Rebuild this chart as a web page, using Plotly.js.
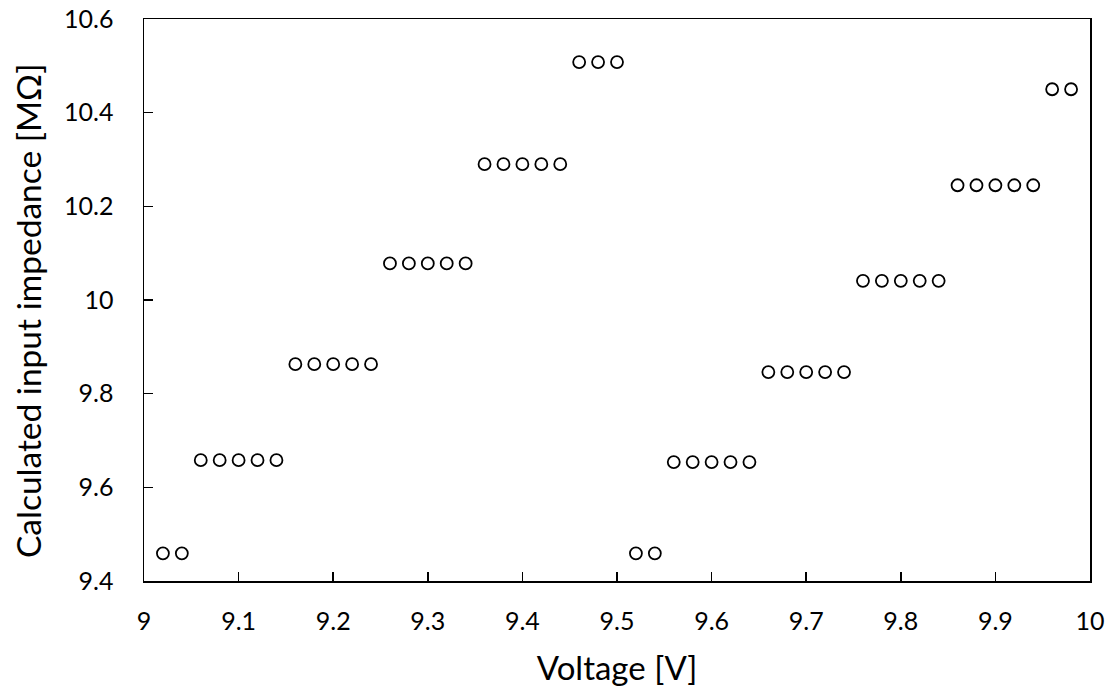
<!DOCTYPE html>
<html>
<head>
<meta charset="utf-8">
<script src="https://cdn.plot.ly/plotly-3.0.1.min.js"></script>
<style>html,body{margin:0;padding:0;background:#fff;}#chart{width:1112px;height:697px;}</style>
</head>
<body>
<div id="chart"></div>
<script>
// Data
const voltage = [9.02, 9.04,
  9.06, 9.08, 9.10, 9.12, 9.14,
  9.16, 9.18, 9.20, 9.22, 9.24,
  9.26, 9.28, 9.30, 9.32, 9.34,
  9.36, 9.38, 9.40, 9.42, 9.44,
  9.46, 9.48, 9.50,
  9.52, 9.54,
  9.56, 9.58, 9.60, 9.62, 9.64,
  9.66, 9.68, 9.70, 9.72, 9.74,
  9.76, 9.78, 9.80, 9.82, 9.84,
  9.86, 9.88, 9.90, 9.92, 9.94,
  9.96, 9.98];
const impedance = [9.459, 9.459,
  9.658, 9.658, 9.658, 9.658, 9.658,
  9.863, 9.863, 9.863, 9.863, 9.863,
  10.078, 10.078, 10.078, 10.078, 10.078,
  10.290, 10.290, 10.290, 10.290, 10.290,
  10.508, 10.508, 10.508,
  9.459, 9.459,
  9.654, 9.654, 9.654, 9.654, 9.654,
  9.846, 9.846, 9.846, 9.846, 9.846,
  10.041, 10.041, 10.041, 10.041, 10.041,
  10.245, 10.245, 10.245, 10.245, 10.245,
  10.450, 10.450];
const xTicks = [9, 9.1, 9.2, 9.3, 9.4, 9.5, 9.6, 9.7, 9.8, 9.9, 10];
const xTickLabels = ['9', '9.1', '9.2', '9.3', '9.4', '9.5', '9.6', '9.7', '9.8', '9.9', '10'];
const yTicks = [9.4, 9.6, 9.8, 10, 10.2, 10.4, 10.6];
const yTickLabels = ['9.4', '9.6', '9.8', '10', '10.2', '10.4', '10.6'];
const xTitle = 'Voltage [V]';
const yTitle = 'Calculated input impedance [MΩ]';

const fontFamily = 'Lato, "Open Sans", sans-serif';

const trace = {
  x: voltage,
  y: impedance,
  type: 'scatter',
  mode: 'markers',
  marker: {symbol: 'circle-open', size: 12, color: '#000', line: {width: 1.8, color: '#000'}},
  hoverinfo: 'x+y'
};

const layout = {
  width: 1112, height: 697,
  margin: {l: 144, r: 22, t: 19, b: 116},
  paper_bgcolor: '#fff', plot_bgcolor: '#fff',
  showlegend: false,
  font: {family: fontFamily, color: '#000', size: 25},
  xaxis: {
    range: [9, 10],
    tickmode: 'array', tickvals: xTicks, ticktext: xTickLabels,
    ticks: 'inside', ticklen: 9, tickwidth: 1.5, tickcolor: '#000',
    showline: true, linecolor: '#000', linewidth: 1.5, mirror: true,
    showgrid: false, zeroline: false,
    tickfont: {family: fontFamily, size: 25, color: '#000'},
    ticklabelstandoff: 17,
    title: {text: xTitle, font: {family: fontFamily, size: 33, color: '#000'}, standoff: 23}
  },
  yaxis: {
    range: [9.4, 10.6],
    tickmode: 'array', tickvals: yTicks, ticktext: yTickLabels,
    ticks: 'inside', ticklen: 9, tickwidth: 1.5, tickcolor: '#000',
    showline: true, linecolor: '#000', linewidth: 1.5, mirror: true,
    showgrid: false, zeroline: false,
    tickfont: {family: fontFamily, size: 25, color: '#000'},
    ticklabelstandoff: 24
  },
  annotations: [{
    text: yTitle, textangle: -90, showarrow: false,
    xref: 'paper', yref: 'paper', x: -0.1226, y: 0.4804,
    xanchor: 'center', yanchor: 'middle',
    font: {family: fontFamily, size: 33.5, color: '#000'}
  }]
};

Plotly.newPlot('chart', [trace], layout, {displayModeBar: false, staticPlot: true});
</script>
</body>
</html>
